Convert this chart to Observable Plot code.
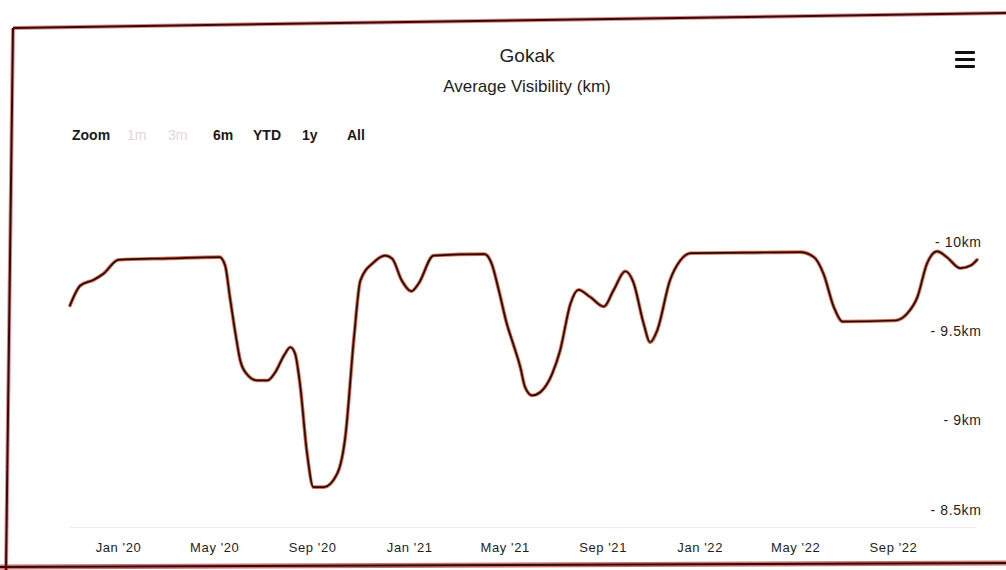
<!DOCTYPE html>
<html>
<head>
<meta charset="utf-8">
<script src="https://cdn.jsdelivr.net/npm/d3@7"></script>
<script src="https://cdn.jsdelivr.net/npm/@observablehq/plot@0.6"></script>
<style>
  html, body { margin: 0; padding: 0; background: #fff; }
  #page { position: relative; width: 1006px; height: 570px; overflow: hidden; background: #fff; font-family: "Liberation Sans", Arial, sans-serif; }
  #frame { position: absolute; left: 0; top: 0; width: 1006px; height: 570px; pointer-events: none; }
  .title { position: absolute; left: 0; width: 1054px; text-align: center; color: #1e1e1e; }
  #t1 { top: 45px; font-size: 19px; }
  #t2 { top: 77px; font-size: 17px; }
  #zoom { position: absolute; top: 127px; left: 72px; font-size: 14px; font-weight: bold; color: #1a1a1a; white-space: nowrap; }
  #zoom span { position: absolute; top: 0; }
  #zoom .off { color: #e2d6d6; font-weight: normal; }
  .bar { position: absolute; left: 955px; width: 20px; height: 3px; background: #111; border-radius: 1px; }
  #chart { position: absolute; left: 0; top: 160px; }
</style>
</head>
<body>
<div id="page">
  <div class="title" id="t1">Gokak</div>
  <div class="title" id="t2">Average Visibility (km)</div>
  <div id="zoom"></div>
  <div class="bar" style="top:51px"></div>
  <div class="bar" style="top:58px"></div>
  <div class="bar" style="top:65px"></div>
  <div id="chart"></div>
  <svg id="frame" width="1006" height="570">
    <polyline points="13,28 1006,13" fill="none" stroke="#b02020" stroke-width="4" opacity="0.5"/>
    <polyline points="13,28 1006,13" fill="none" stroke="#3a0808" stroke-width="2"/>
    <polyline points="13,28 6,570" fill="none" stroke="#b02020" stroke-width="4" opacity="0.5"/>
    <polyline points="13,28 6,570" fill="none" stroke="#3a0808" stroke-width="2"/>
    <polyline points="0,567 1006,563" fill="none" stroke="#a01818" stroke-width="5" opacity="0.6"/>
    <polyline points="0,567 1006,563" fill="none" stroke="#3a0808" stroke-width="2"/>
  </svg>
</div>
<script>
// ---- data ----
const dates = ["2019-11-01","2019-11-14","2019-12-01","2019-12-13",
  "2020-01-01","2020-03-05","2020-05-07","2020-05-14","2020-05-20","2020-05-27","2020-06-02","2020-06-10","2020-06-23","2020-07-06","2020-07-16","2020-07-27","2020-08-04","2020-08-10","2020-08-16","2020-08-25","2020-09-02","2020-09-15","2020-10-02","2020-10-12","2020-10-23","2020-10-31","2020-11-17","2020-12-01","2020-12-10","2020-12-22",
  "2021-01-03","2021-01-12","2021-01-31","2021-04-05","2021-04-14","2021-04-23","2021-05-03","2021-05-11","2021-05-20","2021-05-26","2021-06-04","2021-06-14","2021-06-29","2021-07-09","2021-07-22","2021-08-01","2021-08-16","2021-09-02","2021-09-14","2021-09-29","2021-10-09","2021-10-22","2021-10-30","2021-11-08","2021-11-24","2021-12-07","2021-12-20",
  "2022-03-01","2022-05-07","2022-05-24","2022-06-05","2022-06-18","2022-06-29","2022-09-03","2022-09-18","2022-10-01","2022-10-13","2022-10-26","2022-11-07","2022-11-24","2022-12-07","2022-12-15"];
const visibilityKm = [9.647,9.759,9.791,9.825,
  9.903,9.911,9.918,9.871,9.694,9.489,9.339,9.264,9.227,9.227,9.273,9.367,9.413,9.376,9.210,8.818,8.629,8.629,8.706,8.909,9.469,9.787,9.890,9.927,9.909,9.787,
  9.727,9.769,9.927,9.935,9.881,9.731,9.545,9.432,9.301,9.189,9.143,9.161,9.264,9.395,9.657,9.735,9.694,9.641,9.731,9.839,9.778,9.545,9.441,9.507,9.787,9.899,9.940,
  9.943,9.946,9.918,9.825,9.638,9.557,9.563,9.601,9.694,9.881,9.950,9.918,9.856,9.871,9.903];
const xTickDates = ["2020-01-01","2020-05-01","2020-09-01","2021-01-01","2021-05-01","2021-09-01","2022-01-01","2022-05-01","2022-09-01"];
const xTickLabels = ["Jan '20","May '20","Sep '20","Jan '21","May '21","Sep '21","Jan '22","May '22","Sep '22"];
const yTicks = [8.5, 9, 9.5, 10];
const yTickLabels = ["8.5km","9km","9.5km","10km"];
const zoomButtons = ["Zoom","1m","3m","6m","YTD","1y","All"];
const zoomActive = [true,false,false,true,true,true,true];

// ---- zoom buttons ----
const zoomLeft = [0, 55, 96, 141, 181, 230, 275];
const zoomEl = document.getElementById("zoom");
zoomButtons.forEach((b, i) => {
  const s = document.createElement("span");
  s.textContent = b;
  s.style.left = zoomLeft[i] + "px";
  if (!zoomActive[i]) s.className = "off";
  zoomEl.appendChild(s);
});

const data = dates.map((d, i) => ({date: new Date(d + "T00:00:00Z"), v: visibilityKm[i]}));
const xt = xTickDates.map(d => new Date(d + "T00:00:00Z"));
const yMin = 8.403;

const chart = Plot.plot({
  width: 1006,
  height: 410,
  marginTop: 82,
  marginBottom: 43,
  marginLeft: 60,
  marginRight: 25,
  style: {fontFamily: "'Liberation Sans', Arial, sans-serif", background: "transparent", overflow: "visible"},
  x: {type: "utc", domain: [xt[0], xt[xt.length - 1]], range: [118, 893]},
  y: {domain: [yMin, 10]},
  marks: [
    Plot.ruleY([yMin], {x1: data[0].date, x2: data[data.length-1].date, stroke: "#ececec", strokeWidth: 1}),
    Plot.line(data, {x: "date", y: "v", curve: "monotone-x", stroke: "#c0401c", strokeWidth: 3.6, strokeOpacity: 0.75}),
    Plot.line(data, {x: "date", y: "v", curve: "monotone-x", stroke: "#2a0904", strokeWidth: 1.7}),
    Plot.axisX({ticks: xt, tickSize: 0, tickPadding: 15, fontSize: 13, fill: "#1e1e1e",
      tickFormat: (d) => xTickLabels[xt.findIndex(t => +t === +d)], label: null}),
    Plot.axisY({anchor: "right", ticks: yTicks, tickSize: 0, tickPadding: 0, textAnchor: "end", fontSize: 14, fill: "#1e1e1e",
      tickFormat: (d) => "- " + yTickLabels[yTicks.indexOf(d)], label: null})
  ]
});
chart.querySelectorAll("g[aria-label='x-axis tick label'] text, g[aria-label='y-axis tick label'] text").forEach(t => t.setAttribute("letter-spacing", "0.6"));
document.getElementById("chart").appendChild(chart);
</script>
</body>
</html>
